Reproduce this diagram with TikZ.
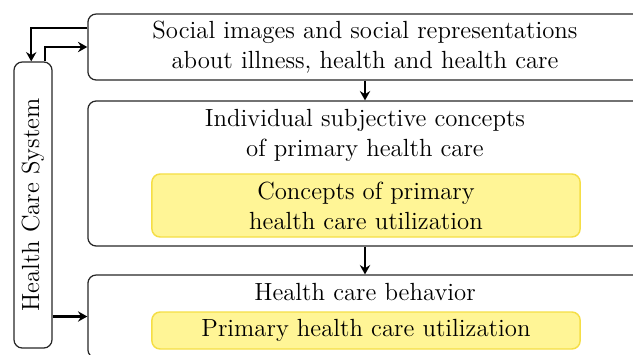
\documentclass[tikz,border=0pt]{standalone}
\usepackage{tikz}
\usetikzlibrary{arrows.meta}

\definecolor{utilfill}{RGB}{255,245,150}
\definecolor{utildraw}{RGB}{245,222,70}

\tikzset{
  outerbox/.style={draw=black!85, line width=0.6pt, rounded corners=4pt, inner sep=0pt, minimum width=9.42cm},
  utilbox/.style={draw=utildraw, fill=utilfill, line width=0.7pt, rounded corners=4pt, inner sep=0pt, minimum width=7.28cm, align=center},
  flow/.style={-{Stealth[length=4.5pt,width=5pt,inset=1.5pt]}, line width=1.1pt}
}

\begin{document}
\begin{tikzpicture}[x=0.017cm,y=-0.017cm,font=\fontsize{12}{14.5}\selectfont]
\clip (0,0) rectangle (633,354);

% boxes
\node[outerbox,minimum height=1.122cm,align=center] (images) at (365,47) {Social images and social representations\\about illness, health and health care};
\node[outerbox,minimum height=2.465cm] (concepts) at (365,173.5) {};
\node[outerbox,minimum height=1.411cm] (behavior) at (365,316.5) {};
\node[draw=black!85,line width=0.6pt,rounded corners=4pt,inner sep=0pt,minimum width=0.646cm,minimum height=4.862cm] (system) at (33,205) {};

% texts
\node[align=center] (conceptstext) at (365,135) {Individual subjective concepts\\of primary health care};
\node[utilbox,minimum height=1.071cm] (conceptsutil) at (366,205.5) {Concepts of primary\\health care utilization};
\node (behaviortext) at (365,292) {Health care behavior};
\node[utilbox,minimum height=0.629cm] (behaviorutil) at (366,330.5) {Primary health care utilization};
\node[rotate=90] (systemtext) at (system) {Health Care System};

% arrows
\draw[flow] (images.south) -- (concepts.north);
\draw[flow] (concepts.south) -- (behavior.north);
\draw[flow] ([yshift=0.32cm]images.west) -| ([xshift=-0.03cm]system.north);
\draw[flow] ([xshift=0.2cm]system.north) |- (images.west);
\draw[flow] (system.east |- behavior.west) -- (behavior.west);
\end{tikzpicture}
\end{document}
